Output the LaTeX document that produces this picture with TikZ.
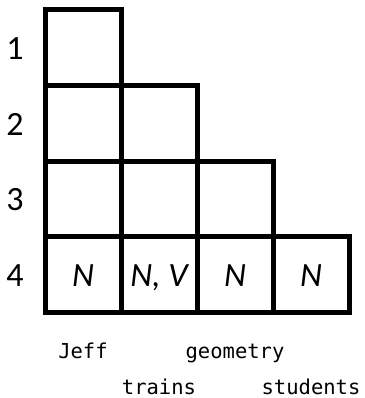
\documentclass[tikz,border=0pt]{standalone}
\usepackage{fontspec}
\setmainfont{Carlito}
\setmonofont{DejaVu Sans Mono}
\usetikzlibrary{positioning}

\begin{document}
\begin{tikzpicture}[x=1pt, y=-1pt,
  cell/.style={draw, line width=5pt, minimum width=76pt, minimum height=75.5pt,
               inner sep=0pt, outer sep=0pt},
  tag/.style={anchor=base, font=\fontsize{34}{38}\selectfont\itshape},
  rowlbl/.style={anchor=base, font=\fontsize{34}{38}\selectfont},
  word/.style={anchor=base, font=\fontsize{20.5}{24}\selectfont\ttfamily}]
\useasboundingbox (0,0) rectangle (364,398);
% chart cells, row r has r cells
\foreach \r in {1,...,4}{
  \foreach \c in {1,...,\r}
    \node[cell] (c\r\c) at ({83+76*(\c-1)},{47.75+75.5*(\r-1)}) {};
  \node[rowlbl] (r\r) at (15,{59.75+75.5*(\r-1)}) {\r};
}
% categories in bottom row
\foreach \c/\t in {1/N, 2/{N, V}, 3/N, 4/N}
  \node[tag] (t\c) at ({83+76*(\c-1)},286) {\t};
% words
\foreach \c/\w/\y in {1/Jeff/358, 2/trains/394, 3/geometry/358, 4/students/394}
  \node[word] (w\c) at ({83+76*(\c-1)},\y) {\w};
\end{tikzpicture}
\end{document}
